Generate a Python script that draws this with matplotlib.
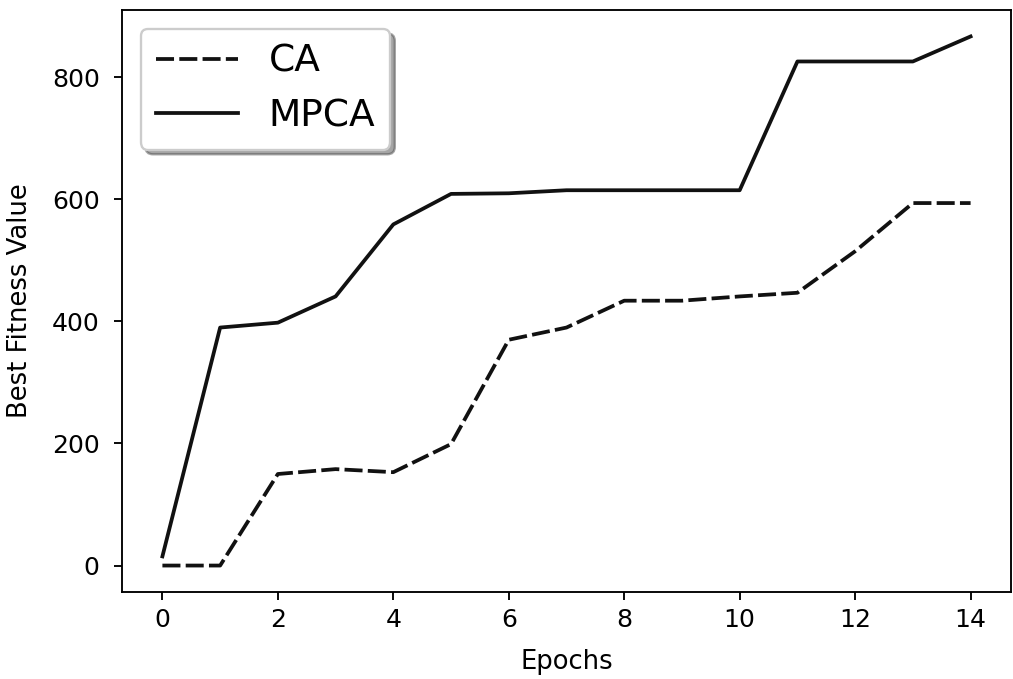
import numpy as np
import matplotlib
matplotlib.use('Agg')
import matplotlib.pyplot as plt

""" data read off the chart """
epochs = list(range(15))
ca = [0, 0, 150, 158, 153, 199, 370, 390, 434, 434, 441, 447, 515, 594, 594]
mpca = [15, 390, 398, 441, 559, 609, 610, 615, 615, 615, 615, 826, 826, 826, 867]

""" figure """
fig = plt.figure(figsize=(1013 / 169, 679 / 169), dpi=169)
ax = fig.add_axes([122 / 1013, 1 - 592 / 679, (1011 - 122) / 1013, (592 - 10) / 679])

ax.plot(epochs, ca, color='#111111', ls='--', dashes=(4.8, 1.4), lw=1.6, label='CA')
ax.plot(epochs, mpca, color='#111111', ls='-', lw=1.6, label='MPCA')

ax.set_xticks(np.arange(0, 15, 2))
ax.set_yticks([0, 200, 400, 600, 800])
ax.tick_params(axis='both', labelsize=10.7)
ax.tick_params(axis='y', pad=6)
ax.set_xlabel('Epochs', fontsize=11, labelpad=7)
ax.set_ylabel('Best Fitness Value', fontsize=11, labelpad=8)

ax.legend(loc='upper left', shadow=True, fontsize=16, handlelength=2.2)

fig.savefig('out.png', dpi=169)
